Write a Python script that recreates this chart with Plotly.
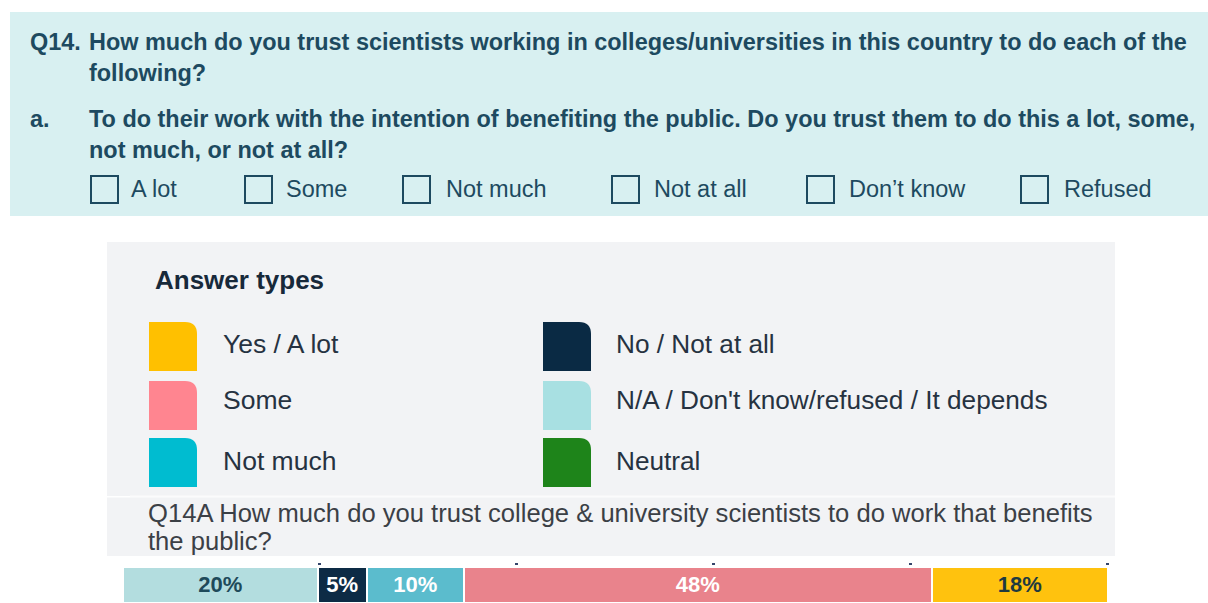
import plotly.graph_objects as go

# ---- data -------------------------------------------------------------
question_code = "Q14."
question_text = ("How much do you trust scientists working in colleges/universities "
                 "in this country to do each of the")
question_text2 = "following?"
item_code = "a."
item_text = ("To do their work with the intention of benefiting the public. "
             "Do you trust them to do this a lot, some,")
item_text2 = "not much, or not at all?"
answer_options = ["A lot", "Some", "Not much", "Not at all", "Don\u2019t know", "Refused"]

legend_title = "Answer types"
legend_left = ["Yes / A lot", "Some", "Not much"]
legend_right = ["No / Not at all", "N/A / Don't know/refused / It depends", "Neutral"]

chart_title_1 = "Q14A How much do you trust college & university scientists to do work that benefits"
chart_title_2 = "the public?"

bar_categories = ["N/A / Don't know/refused / It depends", "No / Not at all",
                  "Not much", "Some", "Yes / A lot"]
bar_values = [20, 5, 10, 48, 18]
scale_ticks = [20, 40, 60, 80, 100]

# ---- styling ----------------------------------------------------------
W, H = 1208, 603
FONT = "Liberation Sans, Arial, Helvetica, sans-serif"
TEAL_TEXT = "#1d4a60"
PANEL_CYAN = "#d8f0f1"
PANEL_GRAY = "#f2f3f5"

legend_colors_left = ["#ffc000", "#ff8590", "#00bcd0"]
legend_colors_right = ["#0a2a44", "#a8e0e2", "#1e841a"]
bar_colors = ["#b3dddf", "#0d2b45", "#5bbccd", "#e9838c", "#ffc20e"]
bar_text_colors = ["#1e4a5a", "white", "white", "white", "#1e3a40"]

option_box_x = [91, 245, 403, 612, 807, 1021]
option_text_x = [129, 284, 444, 652, 847, 1062]
key_row_top = [322, 381, 438]
key_label_y = [344, 400, 461]


def px(x):
    return x / W


def py(y):
    return 1 - y / H


shapes = []
annotations = []


def rect(x0, y0, x1, y1, fill, line_color=None, line_width=0):
    shapes.append(dict(type="rect", xref="paper", yref="paper",
                       x0=px(x0), x1=px(x1), y0=py(y1), y1=py(y0),
                       fillcolor=fill, layer="below",
                       line=dict(color=line_color or fill, width=line_width)))


def text(x, y, s, size, color, bold=False, anchor="left"):
    annotations.append(dict(xref="paper", yref="paper", x=px(x), y=py(y),
                            text=f"<b>{s}</b>" if bold else s, showarrow=False,
                            xanchor=anchor, yanchor="middle",
                            font=dict(family=FONT, size=size, color=color)))


def swatch(x0, y0, w, h, r, color):
    pts = [(x0, y0 + h), (x0, y0), (x0 + w - r, y0)]
    path = "M{},{} L{},{} L{},{} ".format(px(pts[0][0]), py(pts[0][1]),
                                          px(pts[1][0]), py(pts[1][1]),
                                          px(pts[2][0]), py(pts[2][1]))
    path += "Q{},{} {},{} ".format(px(x0 + w), py(y0), px(x0 + w), py(y0 + r))
    path += "L{},{} Z".format(px(x0 + w), py(y0 + h))
    shapes.append(dict(type="path", xref="paper", yref="paper", path=path,
                       fillcolor=color, line=dict(width=0), layer="above"))


# ---- question card ----------------------------------------------------
QSIZE = 23.45
rect(10, 12, 1208, 216, PANEL_CYAN)
text(28, 42, question_code, QSIZE, TEAL_TEXT, bold=True)
text(87, 42, question_text, QSIZE, TEAL_TEXT, bold=True)
text(87, 73, question_text2, QSIZE, TEAL_TEXT, bold=True)
text(28, 119, item_code, QSIZE, TEAL_TEXT, bold=True)
text(87, 119, item_text, QSIZE, TEAL_TEXT, bold=True)
text(87, 150, item_text2, QSIZE, TEAL_TEXT, bold=True)
for label, bx, tx in zip(answer_options, option_box_x, option_text_x):
    shapes.append(dict(type="rect", xref="paper", yref="paper",
                       x0=px(bx), x1=px(bx + 27), y0=py(203), y1=py(176),
                       line=dict(color=TEAL_TEXT, width=2), fillcolor="rgba(0,0,0,0)"))
    text(tx, 189, label, 23.5, TEAL_TEXT)

# ---- answer-type key --------------------------------------------------
rect(107, 242, 1115, 496, PANEL_GRAY)
rect(130, 495.5, 1115, 497.5, "#fbfbfc")
text(153, 280, legend_title, 26, "#17293a", bold=True)
for i, (lab, col) in enumerate(zip(legend_left, legend_colors_left)):
    swatch(149, key_row_top[i], 48, 49, 12, col)
    text(221, key_label_y[i], lab, 26.5, "#263241")
for i, (lab, col) in enumerate(zip(legend_right, legend_colors_right)):
    swatch(543, key_row_top[i], 48, 49, 12, col)
    text(614, key_label_y[i], lab, 26.2, "#263241")

# ---- chart heading ----------------------------------------------------
rect(107, 497.5, 1115, 556, PANEL_GRAY)
text(146, 513, chart_title_1, 25.6, "#3b4046")
text(146, 541, chart_title_2, 25.6, "#3b4046")

# ---- stacked bar ------------------------------------------------------
fig = go.Figure()
for cat, val, col, tcol in zip(bar_categories, bar_values, bar_colors, bar_text_colors):
    fig.add_trace(go.Bar(
        y=["Q14A"], x=[val], orientation="h", name=cat,
        marker=dict(color=col, line=dict(color="white", width=2.5)),
        width=1, text=[val], texttemplate="<b>%{x}%</b>",
        textposition="inside", insidetextanchor="middle", textangle=0,
        constraintext="none",
        textfont=dict(family=FONT, size=22, color=tcol),
        hoverinfo="skip", showlegend=False,
    ))
# percentage scale markers above the bar
fig.add_trace(go.Scatter(x=[scale_ticks[0]], y=["Q14A"], xaxis="x2", yaxis="y",
                         mode="markers", marker=dict(opacity=0), hoverinfo="skip",
                         showlegend=False))

fig.update_layout(
    width=W, height=H,
    margin=dict(l=0, r=0, t=0, b=0),
    paper_bgcolor="white", plot_bgcolor="rgba(0,0,0,0)",
    barmode="stack", bargap=0,
    xaxis=dict(domain=[px(123), px(1108)], range=[0, sum(bar_values)],
               visible=False, fixedrange=True),
    xaxis2=dict(overlaying="x", range=[0, 100.05], anchor="free",
                position=py(565), side="top", tickvals=scale_ticks,
                ticks="outside", ticklen=2, tickwidth=2.5, tickcolor="#34456b",
                showticklabels=False, showline=False, showgrid=False,
                zeroline=False, fixedrange=True),
    yaxis=dict(domain=[0, (H - 567) / H], range=[-0.5, 0.5], visible=False,
               fixedrange=True),
    shapes=shapes,
    annotations=annotations,
)

fig.write_html("out.html")
